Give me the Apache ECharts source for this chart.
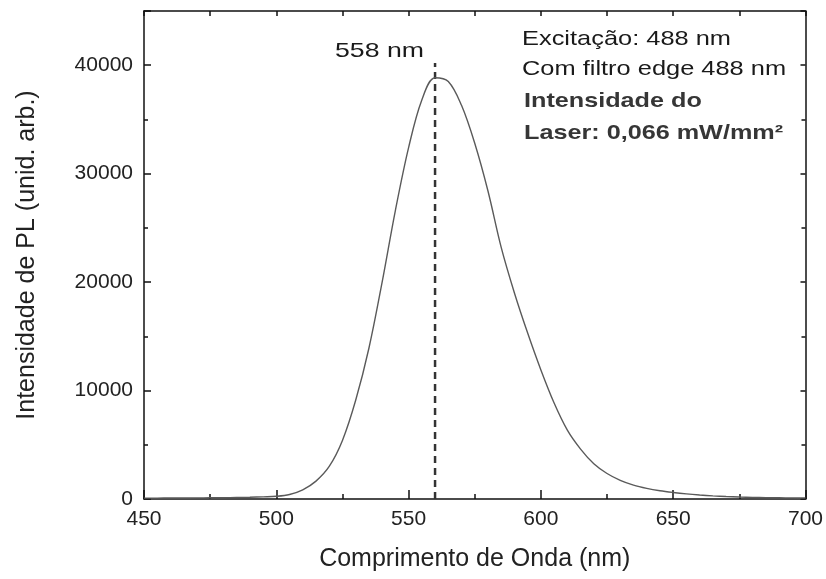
<!DOCTYPE html>
<html>
<head>
<meta charset="utf-8">
<script src="https://cdn.jsdelivr.net/npm/echarts@6/dist/echarts.min.js"></script>
<style>
html,body{margin:0;padding:0;background:#fff;}
#chart{width:826px;height:579px;}
</style>
</head>
<body>
<div id="chart"></div>
<script>
const wavelength = [450,455,460,465,470,475,480,485,490,495,500,505,510,515,520,525,530,535,540,545,550,555,560,565,570,575,580,585,590,595,600,605,610,615,620,625,630,635,640,645,650,655,660,665,670,675,680,685,690,695,700];
const intensity = [80,85,90,95,100,110,120,135,160,200,250,420,850,1650,3000,5400,9100,13900,20000,26600,32400,36800,38850,38500,36300,32800,28400,23200,19000,15300,11900,8850,6350,4600,3250,2350,1720,1280,980,760,600,470,370,290,230,185,150,125,110,100,90];
const peakMarkerX = [560, 560];
const peakMarkerY = [0, 40200];
const xTicks = { min: 450, max: 700, interval: 50 };
const yTicks = { min: 0, max: 45000, interval: 10000 };
const peakLabel = '558 nm';
const notes = ['Excitação: 488 nm', 'Com filtro edge 488 nm'];
const notesBold = ['Intensidade do', 'Laser: 0,066 mW/mm²'];
const xTitle = 'Comprimento de Onda (nm)';
const yTitle = 'Intensidade de PL (unid. arb.)';

const FONT = 'Liberation Sans, Arial, sans-serif';
const lineStyleAxis = { color: '#111', width: 1.5 };

function xAxisDef(pos, showLabel) {
  return {
    type: 'value', position: pos, min: xTicks.min, max: xTicks.max, interval: xTicks.interval,
    name: showLabel ? xTitle : '', nameLocation: 'middle', nameGap: 48,
    nameTextStyle: { fontFamily: FONT, fontSize: 25, color: '#222' },
    axisLine: { show: true, onZero: false, lineStyle: lineStyleAxis },
    axisTick: { show: true, inside: true, length: showLabel ? 9 : 5, lineStyle: { color: '#111', width: 1.5 } },
    minorTick: { show: true, splitNumber: 2, length: 5, lineStyle: { color: '#111', width: 1.5 } },
    axisLabel: { show: showLabel, margin: 10, fontFamily: FONT, fontSize: 21, color: '#222', formatter: v => String(v) },
    splitLine: { show: false }, minorSplitLine: { show: false }
  };
}
function yAxisDef(pos, showLabel) {
  return {
    type: 'value', position: pos, min: yTicks.min, max: yTicks.max, interval: yTicks.interval,
    name: showLabel ? yTitle : '', nameLocation: 'middle', nameGap: 104,
    nameTextStyle: { fontFamily: FONT, fontSize: 25, color: '#222' },
    axisLine: { show: true, onZero: false, lineStyle: lineStyleAxis },
    axisTick: { show: true, inside: true, length: showLabel ? 7 : 5, lineStyle: { color: '#111', width: 1.5 } },
    minorTick: { show: true, splitNumber: 2, length: 4, lineStyle: { color: '#111', width: 1.5 } },
    axisLabel: { show: showLabel, margin: 11, fontFamily: FONT, fontSize: 21, color: '#222', showMaxLabel: false, formatter: v => String(v) },
    splitLine: { show: false }, minorSplitLine: { show: false }
  };
}

const chart = echarts.init(document.getElementById('chart'), null, { renderer: 'canvas' });

const textEls = [];
notes.forEach((t, i) => {
  textEls.push({ type: 'text', left: 522, top: 39 + i * 30 - 10, scaleX: 1.21, originX: 0,
    style: { text: t, fontFamily: FONT, fontSize: 21, fill: '#1a1a1a' } });
});
notesBold.forEach((t, i) => {
  textEls.push({ type: 'text', left: 524, top: 101 + i * 32 - 10, scaleX: 1.2, originX: 0,
    style: { text: t, fontFamily: FONT, fontSize: 21, fontWeight: 'bold', fill: '#363636' } });
});
textEls.push({ type: 'text', left: 335, top: 41, scaleX: 1.27, originX: 0,
  style: { text: peakLabel, fontFamily: FONT, fontSize: 21, fill: '#1a1a1a' } });

chart.setOption({
  backgroundColor: '#fff',
  animation: false,
  grid: { left: 144, right: 20, top: 11, bottom: 80, containLabel: false },
  xAxis: [xAxisDef('bottom', true), xAxisDef('top', false)],
  yAxis: [yAxisDef('left', true), yAxisDef('right', false)],
  graphic: textEls,
  series: [
    {
      type: 'line', xAxisIndex: 0, yAxisIndex: 0, smooth: 0.35, symbol: 'none',
      lineStyle: { color: '#5a5a5a', width: 1.4 },
      data: wavelength.map((w, i) => [w, intensity[i]]), z: 3
    },
    {
      type: 'line', xAxisIndex: 0, yAxisIndex: 0, symbol: 'none',
      lineStyle: { color: '#333', width: 2.5, type: [7, 5] },
      data: peakMarkerX.map((w, i) => [w, peakMarkerY[i]]), z: 2
    }
  ]
});
</script>
</body>
</html>
